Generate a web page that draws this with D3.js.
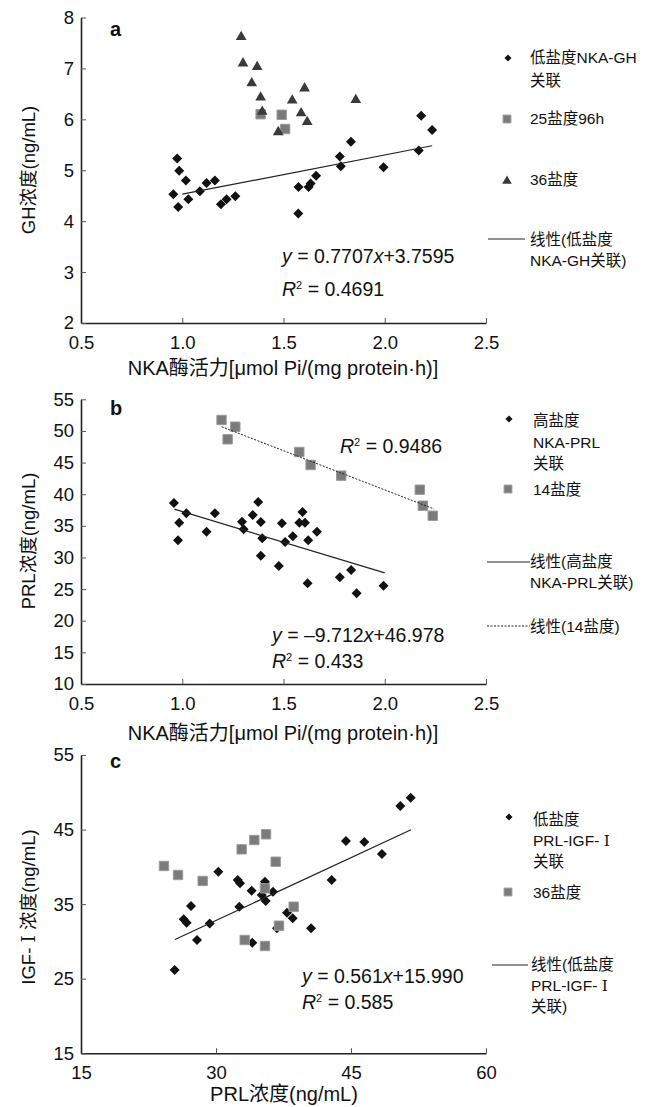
<!DOCTYPE html>
<html>
<head>
<meta charset="utf-8">
<script src="https://cdn.jsdelivr.net/npm/d3@7"></script>
<style>
body { margin: 0; background: #fff; }
text { font-family: "Liberation Sans", "Noto Sans CJK SC", sans-serif; fill: #111; }
.roman { font-family: "DejaVu Serif", "Liberation Serif", serif; }
</style>
</head>
<body>
<svg width="653" height="1107"></svg>
<script>
// ---- data ----
var nkaTicks = [0.5, 1.0, 1.5, 2.0, 2.5];
var ghTicks = [2, 3, 4, 5, 6, 7, 8];
var prlTicks = [10, 15, 20, 25, 30, 35, 40, 45, 50, 55];
var prlXTicks = [15, 30, 45, 60];
var igfTicks = [15, 25, 35, 45, 55];

// panel a: NKA vs GH
var aLowSalt = [[0.975,5.23],[0.985,4.99],[1.018,4.80],[0.956,4.53],[0.980,4.28],[1.030,4.43],
  [1.087,4.59],[1.120,4.75],[1.161,4.80],[1.191,4.33],[1.219,4.43],[1.262,4.49],[1.574,4.67],
  [1.573,4.15],[1.624,4.67],[1.634,4.74],[1.661,4.89],[1.778,5.27],[1.783,5.08],[1.833,5.56],
  [1.994,5.06],[2.168,5.39],[2.180,6.07],[2.234,5.79]];
var a25Salt96h = [[1.387,6.10],[1.491,6.09],[1.508,5.81]];
var a36Salt = [[1.291,7.62],[1.300,7.10],[1.370,7.03],[1.343,6.71],[1.387,6.43],[1.395,6.15],
  [1.543,6.37],[1.604,6.61],[1.587,6.12],[1.617,5.95],[1.474,5.75],[1.857,6.38]];
var aFit = [0.7707, 3.7595];
var aFitRange = [1.0, 2.234];

// panel b: NKA vs PRL
var bHighSalt = [[0.959,38.61],[0.985,35.50],[0.979,32.71],[1.020,36.98],[1.120,34.07],[1.161,36.98],
  [1.295,35.66],[1.303,34.45],[1.348,36.71],[1.375,38.77],[1.388,35.61],[1.395,33.03],[1.388,30.28],
  [1.477,28.65],[1.492,35.40],[1.508,32.44],[1.546,33.35],[1.578,35.50],[1.594,37.19],[1.606,35.50],
  [1.622,32.71],[1.665,34.07],[1.619,25.92],[1.778,26.86],[1.834,28.02],[1.861,24.34],[1.994,25.54]];
var b14Salt = [[1.194,51.73],[1.262,50.67],[1.224,48.68],[1.578,46.67],[1.634,44.62],[1.785,42.93],
  [2.173,40.71],[2.188,38.18],[2.237,36.60]];
var bFit = [-9.712, 46.978];
var bFitRange = [0.961, 2.0];
var b14Fit = [-12.39, 65.46];
var b14FitRange = [1.194, 2.244];

// panel c: PRL vs IGF-I
var cLowSalt = [[25.41,26.17],[26.41,32.97],[26.74,32.52],[27.22,34.75],[27.89,30.19],[29.30,32.39],
  [30.26,39.35],[32.41,38.24],[32.67,37.80],[32.59,34.66],[33.96,36.81],[34.03,29.83],[35.08,36.23],
  [35.44,38.01],[35.52,35.42],[36.33,36.67],[36.78,31.76],[37.89,33.86],[38.52,33.10],[40.56,31.76],
  [42.85,38.24],[44.44,43.47],[46.48,43.33],[48.44,41.73],[50.48,48.16],[51.63,49.28]];
var c36Salt = [[24.22,40.12],[25.78,38.91],[28.52,38.11],[32.85,42.35],[34.26,43.60],[35.56,44.37],
  [36.63,40.69],[35.44,37.12],[38.63,34.66],[37.00,32.11],[33.19,30.19],[35.44,29.39]];
var cFit = [0.561, 15.990];
var cFitRange = [25.44, 51.67];

var svg = d3.select("svg");

var diamond = { sym: d3.symbolSquare, size: 50, rot: true, fill: "#111", stroke: "none" };
var square = { sym: d3.symbolSquare, size: 88, rot: false, fill: "#7b7b7b", stroke: "#9a9a9a" };
var triangle = { sym: d3.symbolTriangle, size: 50, rot: false, fill: "#3a3a3a", stroke: "none" };

function drawAxes(x, y, xTicks, yTicks, xFmt) {
    var gx = svg.append("g")
        .attr("transform", "translate(0," + y.range()[0] + ")")
        .call(d3.axisBottom(x).tickValues(xTicks).tickFormat(xFmt)
            .tickSizeInner(-5).tickSizeOuter(0).tickPadding(13));
    var gy = svg.append("g")
        .attr("transform", "translate(" + x.range()[0] + ",0)")
        .call(d3.axisLeft(y).tickValues(yTicks).tickFormat(d3.format("d"))
            .tickSizeInner(-5).tickSizeOuter(0).tickPadding(7));
    [gx, gy].forEach(function (g) {
        g.attr("font-family", null).attr("font-size", null);
        g.select(".domain").attr("stroke", "#222").attr("stroke-width", 1.6);
        g.selectAll(".tick line").attr("stroke", "#555");
        g.selectAll(".tick text").attr("fill", "#111").style("font-size", "18.5px");
    });
}

function drawPoints(data, x, y, m) {
    svg.append("g").selectAll("path")
        .data(data)
        .join("path")
        .attr("d", d3.symbol(m.sym, m.size))
        .attr("transform", function (d) {
            return "translate(" + x(d[0]) + "," + y(d[1]) + ")" + (m.rot ? " rotate(45)" : "");
        })
        .attr("fill", m.fill)
        .attr("stroke", m.stroke);
}

function drawFit(coef, range, x, y, dash) {
    svg.append("line")
        .attr("x1", x(range[0])).attr("y1", y(coef[0] * range[0] + coef[1]))
        .attr("x2", x(range[1])).attr("y2", y(coef[0] * range[1] + coef[1]))
        .attr("stroke", "#222")
        .attr("stroke-width", dash ? 1 : 1.2)
        .attr("stroke-dasharray", dash ? "2,1.5" : null);
}

// text with an optional serif roman numeral "Ⅰ" piece
function label(txt, x, y, size, opts) {
    opts = opts || {};
    var t = svg.append("text").attr("x", x).attr("y", y).style("font-size", size + "px");
    txt.split(/(Ⅰ)/).forEach(function (piece) {
        if (!piece) return;
        var s = t.append("tspan").text(piece === "Ⅰ" ? "I" : piece);
        if (piece === "Ⅰ") s.attr("class", "roman");
    });
    if (opts.anchor) t.attr("text-anchor", opts.anchor);
    if (opts.bold) t.style("font-weight", "bold");
    if (opts.rotate) t.attr("transform", "rotate(-90," + x + "," + y + ")").attr("dy", "0.35em");
    return t;
}

function equation(parts, x, y) {
    // parts: [text, italic?, superscript?, back down?]
    var t = svg.append("text").attr("x", x).attr("y", y).style("font-size", "19.5px");
    parts.forEach(function (p) {
        var s = t.append("tspan").text(p[0]);
        if (p[1]) s.style("font-style", "italic");
        if (p[2]) s.style("font-size", "11px").attr("dy", -7);
        if (p[3]) s.attr("dy", 7);
    });
}

function legendMarker(m, x, y, scale) {
    svg.append("path")
        .attr("d", d3.symbol(m.sym, m.size * scale))
        .attr("transform", "translate(" + x + "," + y + ")" + (m.rot ? " rotate(45)" : ""))
        .attr("fill", m.fill)
        .attr("stroke", m.stroke);
}

function legendLine(x1, x2, y, dash) {
    svg.append("line").attr("x1", x1).attr("x2", x2).attr("y1", y).attr("y2", y)
        .attr("stroke", "#222").attr("stroke-width", 1)
        .attr("stroke-dasharray", dash ? "2,1.5" : null);
}

function legendText(lines, x, y0, step) {
    lines.forEach(function (l, i) { label(l, x, y0 + i * step, 15.5); });
}

// ---- panel a ----
var xA = d3.scaleLinear().domain([0.5, 2.5]).range([81, 486]);
var yA = d3.scaleLinear().domain([2, 8]).range([323, 17.5]);
drawAxes(xA, yA, nkaTicks, ghTicks, d3.format(".1f"));
drawPoints(aLowSalt, xA, yA, diamond);
drawPoints(a25Salt96h, xA, yA, square);
drawPoints(a36Salt, xA, yA, triangle);
drawFit(aFit, aFitRange, xA, yA, false);
label("a", 110, 36, 20, { bold: true });
label("GH浓度(ng/mL)", 29, 170, 18.5, { rotate: true, anchor: "middle" });
label("NKA酶活力[μmol Pi/(mg protein·h)]", 283, 375, 20, { anchor: "middle" });
equation([["y", true], [" = 0.7707"], ["x", true], ["+3.7595"]], 282, 263);
equation([["R", true], ["2", false, true], [" = 0.4691", false, false, true]], 282, 296);

legendMarker(diamond, 508, 58, 0.5);
legendText(["低盐度NKA-GH", "关联"], 530, 63, 22.5);
legendMarker(square, 507, 119, 0.7);
legendText(["25盐度96h"], 530, 124, 22);
legendMarker(triangle, 507, 181, 0.8);
legendText(["36盐度"], 530, 185, 22);
legendLine(488, 525, 239);
legendText(["线性(低盐度", "NKA-GH关联)"], 530, 245, 21);

// ---- panel b ----
var xB = d3.scaleLinear().domain([0.5, 2.5]).range([81, 486]);
var yB = d3.scaleLinear().domain([10, 55]).range([684, 399.3]);
drawAxes(xB, yB, nkaTicks, prlTicks, d3.format(".1f"));
drawPoints(bHighSalt, xB, yB, diamond);
drawPoints(b14Salt, xB, yB, square);
drawFit(bFit, bFitRange, xB, yB, false);
drawFit(b14Fit, b14FitRange, xB, yB, true);
label("b", 110, 415, 20, { bold: true });
label("PRL浓度(ng/mL)", 29, 541, 18.5, { rotate: true, anchor: "middle" });
label("NKA酶活力[μmol Pi/(mg protein·h)]", 283, 740, 20, { anchor: "middle" });
equation([["R", true], ["2", false, true], [" = 0.9486", false, false, true]], 340, 453);
equation([["y", true], [" = –9.712"], ["x", true], ["+46.978"]], 272, 642);
equation([["R", true], ["2", false, true], [" = 0.433", false, false, true]], 272, 668);

legendMarker(diamond, 509, 419, 0.5);
legendText(["高盐度", "NKA-PRL", "关联"], 533, 426, 21.5);
legendMarker(square, 508, 489, 0.7);
legendText(["14盐度"], 533, 495, 22);
legendLine(487, 530, 562);
legendText(["线性(高盐度", "NKA-PRL关联)"], 530, 567, 20.5);
legendLine(487, 530, 626, true);
legendText(["线性(14盐度)"], 530, 632, 22);

// ---- panel c ----
var xC = d3.scaleLinear().domain([15, 60]).range([81, 486]);
var yC = d3.scaleLinear().domain([15, 55]).range([1053.3, 755]);
drawAxes(xC, yC, prlXTicks, igfTicks, d3.format("d"));
drawPoints(cLowSalt, xC, yC, diamond);
drawPoints(c36Salt, xC, yC, square);
drawFit(cFit, cFitRange, xC, yC, false);
label("c", 110, 768, 20, { bold: true });
label("IGF- Ⅰ 浓度(ng/mL)", 29, 907, 18.5, { rotate: true, anchor: "middle" });
label("PRL浓度(ng/mL)", 284, 1101, 20, { anchor: "middle" });
equation([["y", true], [" = 0.561"], ["x", true], ["+15.990"]], 302, 983);
equation([["R", true], ["2", false, true], [" = 0.585", false, false, true]], 302, 1009);

legendMarker(diamond, 509, 817, 0.5);
legendText(["低盐度", "PRL-IGF- Ⅰ", "关联"], 533, 825, 21);
legendMarker(square, 508, 892, 0.7);
legendText(["36盐度"], 533, 898, 22);
legendLine(492, 528, 965);
legendText(["线性(低盐度", "PRL-IGF- Ⅰ", "关联)"], 531, 970, 21);
</script>
</body>
</html>
